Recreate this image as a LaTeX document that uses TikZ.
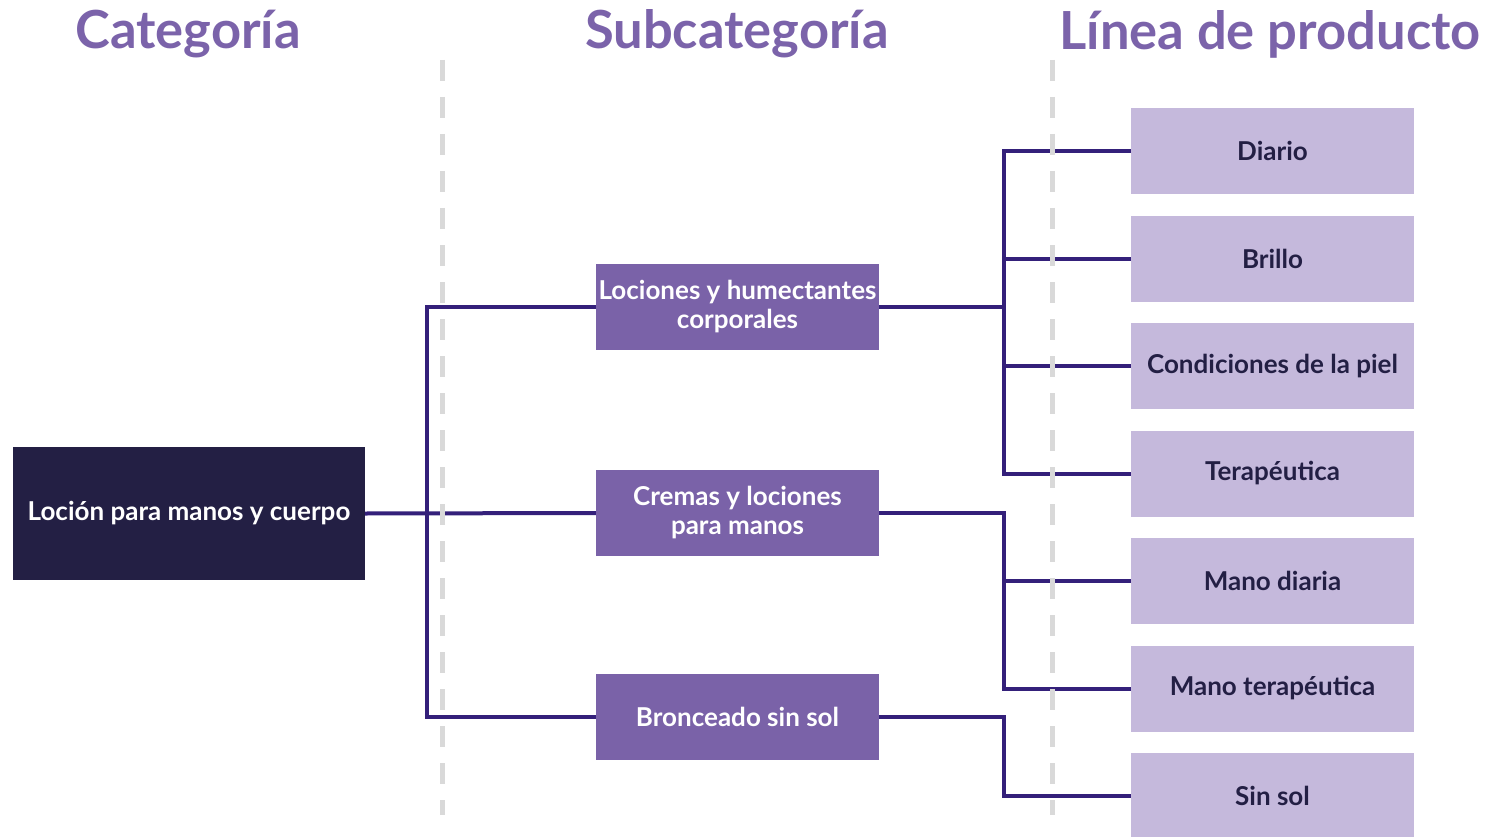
\documentclass[tikz,border=0pt]{standalone}
\usepackage{fontspec}
\setmainfont{Lato}
\usetikzlibrary{calc}
\definecolor{hdr}{HTML}{7B63AA}
\definecolor{subc}{HTML}{7A62A8}
\definecolor{leafc}{HTML}{C5B9DC}
\definecolor{rootc}{HTML}{231F44}
\definecolor{linec}{HTML}{34207A}
\definecolor{dashc}{HTML}{D9D9D9}
\definecolor{leaftext}{HTML}{231F44}
\tikzset{
  header/.style={font=\fontsize{52.5}{58}\selectfont\bfseries, text=hdr, inner sep=0pt},
  rootbox/.style={fill=rootc, text=white, minimum width=352pt, minimum height=133pt, inner sep=0pt, font=\fontsize{26}{29}\selectfont\bfseries},
  subbox/.style={fill=subc, text=white, minimum width=283pt, minimum height=86pt, inner sep=0pt, align=center, font=\fontsize{26}{29}\selectfont\bfseries},
  leafbox/.style={fill=leafc, text=leaftext, minimum width=283pt, minimum height=86pt, inner sep=0pt, font=\fontsize{26}{29}\selectfont\bfseries},
  conn/.style={draw=linec, line width=4pt},
  guide/.style={draw=dashc, line width=5pt, dash pattern=on 21pt off 16pt}
}
\begin{document}
\begin{tikzpicture}[x=1pt,y=-1pt]
\useasboundingbox (0,0) rectangle (1509,837);
\node[header] (h1) at (188,34) {Categoría};
\node[header] (h2) at (737,34) {Subcategoría};
\node[header] (h3) at (1270,34) {Línea de producto};

\node[rootbox] (root) at (189,513.5) {Loción para manos y cuerpo};
\node[subbox] (s1) at (737.5,307) {Lociones y humectantes\\corporales};
\node[subbox] (s2) at (737.5,513) {Cremas y lociones\\para manos};
\node[subbox] (s3) at (737.5,717) {Bronceado sin sol};

\node[leafbox] (l1) at (1272.5,151) {Diario};
\node[leafbox] (l2) at (1272.5,258.5) {Brillo};
\node[leafbox] (l3) at (1272.5,366) {Condiciones de la piel};
\node[leafbox] (l4) at (1272.5,473.5) {Terapéutica};
\node[leafbox] (l5) at (1272.5,581) {Mano diaria};
\node[leafbox] (l6) at (1272.5,688.5) {Mano terapéutica};
\node[leafbox] (l7) at (1272.5,796) {Sin sol};

\coordinate (ja) at (427,0);
\coordinate (jb) at (1004,0);

\draw[conn] (root.east) -- (s2.west);
\draw[conn] (s1.west) -- (s1.west -| ja) -- (s3.west -| ja) -- (s3.west);
\draw[conn] (s1.east) -- (s1.east -| jb);
\draw[conn] (l1.west) -- (l1.west -| jb) -- (l4.west -| jb) -- (l4.west);
\draw[conn] (l2.west) -- (l2.west -| jb);
\draw[conn] (l3.west) -- (l3.west -| jb);
\draw[conn] (s2.east) -- (s2.east -| jb) -- (l6.west -| jb) -- (l6.west);
\draw[conn] (l5.west) -- (l5.west -| jb);
\draw[conn] (s3.east) -- (s3.east -| jb) -- (l7.west -| jb) -- (l7.west);

\coordinate (ga) at (442,60);
\coordinate (gb) at (442,815);
\coordinate (gc) at (1052,60);
\coordinate (gd) at (1052,815);
\draw[guide] (ga) -- (gb);
\draw[guide] (gc) -- (gd);
\end{tikzpicture}
\end{document}
